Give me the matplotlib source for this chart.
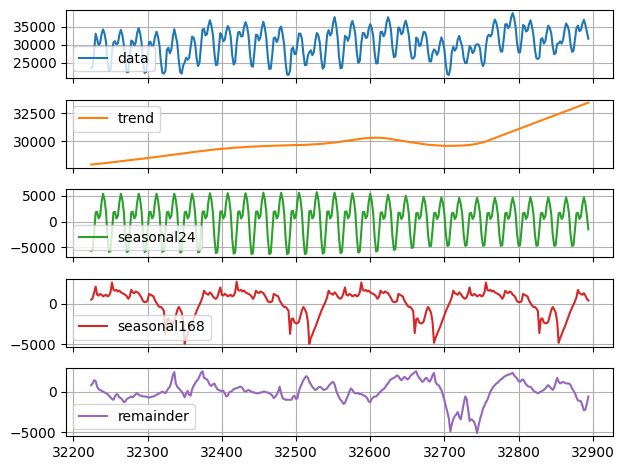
import numpy as np
import matplotlib.pyplot as plt

# hourly index, one sample every 2 hours, 4 weeks
start = 32224
step = 2

# trend, in units of 10, one row per day (12 samples)
trend_rows = [
    [2790, 2791, 2793, 2794, 2796, 2797, 2799, 2800, 2801, 2803, 2804, 2806],
    [2807, 2809, 2810, 2812, 2813, 2815, 2817, 2818, 2820, 2821, 2823, 2824],
    [2826, 2828, 2829, 2831, 2832, 2834, 2836, 2837, 2839, 2840, 2842, 2843],
    [2845, 2847, 2848, 2850, 2852, 2853, 2855, 2857, 2858, 2860, 2862, 2863],
    [2865, 2867, 2869, 2870, 2872, 2874, 2876, 2877, 2879, 2881, 2883, 2884],
    [2886, 2888, 2890, 2891, 2893, 2895, 2897, 2898, 2900, 2902, 2904, 2905],
    [2907, 2909, 2910, 2912, 2913, 2915, 2917, 2918, 2920, 2921, 2923, 2924],
    [2926, 2927, 2928, 2929, 2931, 2932, 2933, 2934, 2935, 2936, 2938, 2939],
    [2940, 2941, 2942, 2942, 2943, 2944, 2945, 2946, 2947, 2947, 2948, 2949],
    [2950, 2951, 2951, 2952, 2952, 2953, 2953, 2954, 2955, 2955, 2956, 2956],
    [2957, 2957, 2958, 2958, 2959, 2959, 2959, 2960, 2960, 2961, 2961, 2962],
    [2962, 2962, 2963, 2963, 2963, 2964, 2964, 2964, 2965, 2965, 2965, 2966],
    [2966, 2967, 2967, 2968, 2969, 2970, 2971, 2971, 2972, 2973, 2974, 2975],
    [2976, 2977, 2979, 2980, 2982, 2983, 2984, 2986, 2987, 2989, 2990, 2992],
    [2993, 2995, 2997, 2999, 3001, 3003, 3005, 3007, 3009, 3011, 3014, 3016],
    [3018, 3020, 3021, 3023, 3024, 3025, 3026, 3027, 3028, 3029, 3029, 3030],
    [3030, 3030, 3029, 3029, 3028, 3027, 3026, 3024, 3022, 3020, 3018, 3016],
    [3015, 3013, 3010, 3008, 3006, 3003, 3001, 2999, 2996, 2994, 2992, 2990],
    [2988, 2986, 2984, 2982, 2980, 2978, 2976, 2974, 2972, 2970, 2968, 2967],
    [2966, 2965, 2964, 2963, 2962, 2961, 2960, 2960, 2959, 2958, 2958, 2957],
    [2957, 2957, 2957, 2957, 2958, 2958, 2958, 2959, 2959, 2960, 2960, 2961],
    [2962, 2963, 2964, 2965, 2967, 2969, 2971, 2973, 2976, 2979, 2982, 2985],
    [2988, 2992, 2997, 3002, 3007, 3012, 3018, 3023, 3028, 3033, 3038, 3043],
    [3048, 3053, 3058, 3063, 3068, 3073, 3078, 3083, 3088, 3093, 3098, 3103],
    [3108, 3113, 3118, 3123, 3128, 3133, 3138, 3143, 3148, 3153, 3158, 3163],
    [3168, 3173, 3178, 3183, 3188, 3193, 3198, 3203, 3208, 3213, 3218, 3223],
    [3228, 3233, 3238, 3243, 3248, 3253, 3258, 3263, 3268, 3273, 3278, 3283],
    [3288, 3293, 3298, 3303, 3308, 3313, 3318, 3323, 3328, 3333, 3338, 3343],
]

# daily seasonal, in hundreds, one row per day
seasonal24_rows = [
    [-57, -55, -20, 18, 19, 6, 11, 38, 54, 42, 18, -30],
    [-59, -57, -20, 18, 19, 6, 11, 38, 54, 42, 18, -30],
    [-59, -57, -20, 18, 19, 6, 11, 38, 54, 42, 18, -30],
    [-59, -57, -20, 18, 19, 6, 11, 38, 54, 42, 18, -30],
    [-59, -57, -20, 18, 19, 6, 11, 38, 54, 42, 18, -31],
    [-60, -58, -21, 18, 19, 6, 11, 38, 54, 42, 18, -31],
    [-60, -58, -21, 19, 20, 6, 11, 39, 55, 43, 18, -31],
    [-61, -59, -21, 19, 20, 6, 11, 39, 55, 43, 18, -32],
    [-62, -60, -22, 19, 20, 6, 11, 39, 55, 43, 18, -32],
    [-63, -61, -22, 19, 20, 6, 11, 39, 56, 43, 18, -32],
    [-63, -61, -22, 19, 20, 6, 11, 40, 56, 43, 18, -32],
    [-63, -61, -22, 20, 21, 6, 11, 40, 56, 44, 18, -32],
    [-63, -61, -22, 20, 21, 6, 11, 40, 57, 44, 18, -32],
    [-62, -60, -22, 19, 20, 6, 11, 40, 56, 43, 18, -32],
    [-61, -59, -21, 19, 20, 6, 11, 39, 55, 42, 18, -31],
    [-60, -58, -21, 18, 19, 6, 11, 38, 54, 41, 17, -30],
    [-58, -56, -20, 17, 18, 5, 10, 37, 52, 40, 17, -29],
    [-55, -53, -19, 17, 17, 5, 10, 35, 50, 38, 16, -27],
    [-51, -50, -18, 16, 17, 5, 10, 34, 48, 37, 15, -26],
    [-48, -47, -17, 16, 17, 5, 10, 33, 47, 36, 15, -25],
    [-47, -46, -16, 16, 17, 5, 10, 33, 46, 35, 15, -25],
    [-47, -46, -16, 16, 17, 5, 10, 33, 46, 35, 15, -25],
    [-47, -46, -16, 16, 17, 5, 10, 33, 46, 35, 15, -25],
    [-47, -46, -16, 16, 17, 5, 10, 33, 46, 35, 15, -25],
    [-47, -46, -16, 16, 17, 5, 10, 33, 47, 35, 15, -25],
    [-47, -46, -16, 16, 17, 5, 10, 33, 47, 35, 15, -25],
    [-47, -46, -16, 16, 17, 5, 10, 33, 47, 35, 15, -25],
    [-47, -46, -16, 16, 17, 5, 10, 33, 47, 35, 12, -15],
]

# weekly seasonal, in hundreds, one row per week (84 samples)
seasonal168_rows = [
    [5, 7, 14, 21, 11, 10, 12, 11, 9, 10, 11, 9,
     10, 14, 26, 17, 16, 17, 15, 16, 14, 13, 12, 11,
     9, 6, 9, 17, 14, 13, 15, 14, 13, 10, 7, 3,
     2, 2, 4, 12, 11, 10, 9, 4, 1, -2, -4, -4,
     -6, -9, -38, -20, -18, -23, -24, -24, -22, -15, -8, -4,
     -7, -11, -22, -49, -42, -38, -33, -29, -24, -19, -14, -9,
     -5, -1, 3, 8, 16, 13, 12, 11, 14, 12, 9, 7],
    [6, 8, 14, 20, 11, 10, 12, 11, 9, 10, 11, 9,
     10, 14, 27, 17, 16, 17, 15, 16, 14, 13, 12, 11,
     9, 6, 9, 16, 14, 13, 15, 14, 13, 10, 7, 3,
     2, 2, 3, 12, 11, 10, 9, 4, 1, -2, -4, -4,
     -6, -9, -37, -19, -18, -23, -24, -24, -22, -15, -8, -4,
     -7, -11, -22, -49, -42, -38, -33, -29, -24, -19, -14, -9,
     -5, -1, 3, 8, 16, 13, 12, 11, 14, 12, 9, 7],
    [6, 8, 13, 20, 11, 10, 12, 11, 9, 10, 11, 9,
     10, 14, 26, 17, 16, 17, 15, 16, 14, 13, 12, 11,
     9, 6, 9, 16, 14, 13, 15, 14, 13, 10, 7, 3,
     2, 2, 3, 12, 11, 10, 9, 4, 1, -2, -4, -4,
     -6, -9, -36, -19, -18, -23, -24, -24, -22, -15, -8, -4,
     -7, -11, -22, -48, -42, -38, -33, -29, -24, -19, -14, -9,
     -5, -1, 3, 8, 16, 13, 12, 11, 14, 12, 9, 7],
    [6, 8, 13, 20, 11, 10, 12, 11, 9, 10, 11, 9,
     10, 14, 26, 17, 16, 17, 15, 16, 14, 13, 12, 11,
     9, 6, 9, 16, 14, 13, 15, 14, 11, 10, 7, 3,
     2, 2, 3, 12, 11, 10, 9, 4, 1, -2, -4, -4,
     -6, -9, -36, -19, -18, -23, -24, -24, -22, -15, -8, -4,
     -7, -11, -22, -48, -42, -38, -33, -29, -24, -19, -14, -9,
     -5, -1, 3, 8, 17, 13, 12, 11, 13, 10, 6, 4],
]

# remainder, in hundreds, one row per day
remainder_rows = [
    [8, 10, 14, 13, 6, 3, 2, 1, 0, -1, -2, -3],
    [-5, -7, -9, -10, -6, -3, -4, -7, -8, -10, -13, -12],
    [-9, -8, -7, -6, -7, -5, -3, -2, -4, -5, -5, -6],
    [-6, -6, -7, -7, -7, -6, -6, -5, -4, -3, -2, -1],
    [0, -1, -2, 1, 4, 6, 12, 20, 24, 10, 6, 4],
    [2, 0, -3, -7, -2, 1, -4, -5, 3, 7, 10, 13],
    [15, 19, 23, 25, 17, 16, 15, 12, 8, 7, 9, 10],
    [6, 3, 2, 1, 1, 1, -2, -6, -5, -1, 0, 1],
    [3, 4, 4, 5, 6, 6, 4, 1, 0, 1, 2, 1],
    [0, -1, -1, -2, -2, -2, -1, -1, 0, 0, -1, -1],
    [-2, -3, -5, -8, -6, -4, 0, 6, -2, -8, -9, -10],
    [-10, -10, -10, -10, -6, -5, -9, -8, 1, 6, 10, 14],
    [17, 19, 17, 12, 9, 6, 4, 2, 3, 5, 6, 5],
    [3, 2, 3, 4, 7, 9, 11, 12, 9, 2, -3, -7],
    [-10, -12, -15, -14, -9, -5, 0, 4, 2, -1, -2, -2],
    [-2, -3, -3, -4, -5, -6, -8, -12, -13, -9, -7, -6],
    [-6, -4, -2, 0, 2, 3, 5, 8, 10, 13, 15, 16],
    [17, 18, 20, 19, 16, 14, 16, 18, 17, 15, 16, 19],
    [21, 22, 24, 25, 20, 17, 15, 12, 13, 16, 17, 14],
    [12, 15, 20, 23, 12, 9, 8, 5, 2, -4, -10, -18],
    [-25, -33, -49, -40, -34, -30, -28, -25, -31, -34, -25, -15],
    [-6, -9, -22, -36, -34, -35, -37, -42, -51, -42, -34, -28],
    [-21, -17, -13, -10, -5, 0, 3, 6, 8, 10, 11, 13],
    [15, 16, 18, 19, 20, 21, 21, 22, 23, 20, 18, 16],
    [13, 12, 14, 15, 12, 9, 7, 6, 6, 4, 1, 0],
    [-1, -2, -1, 0, 1, 2, 4, 6, 8, 6, 4, 2],
    [5, 11, 17, 12, 10, 11, 12, 11, 10, 10, 10, 8],
    [4, 1, -2, -7, -11, -11, -12, -17, -23, -22, -15, -6],
]

trend = np.array(trend_rows).ravel() * 10
seasonal24 = np.array(seasonal24_rows).ravel() * 100
seasonal168 = np.array(seasonal168_rows).ravel() * 100
remainder = np.array(remainder_rows).ravel() * 100
data = trend + seasonal24 + seasonal168 + remainder
x = start + step * np.arange(len(trend))

series = [
    ("data", data, "C0", "lower left"),
    ("trend", trend, "C1", "upper left"),
    ("seasonal24", seasonal24, "C2", "lower left"),
    ("seasonal168", seasonal168, "C3", "lower left"),
    ("remainder", remainder, "C4", "lower left"),
]

fig, axes = plt.subplots(5, 1, sharex=True, figsize=(6.27, 4.7), dpi=100)
for ax, (name, y, color, loc) in zip(axes, series):
    ax.plot(x, y, color=color, label=name)
    ax.legend(loc=loc)
    ax.grid(True)

# tight margins like a cropped save, normal gaps between panels
fig.tight_layout(pad=0.72, h_pad=1.08, w_pad=1.08)
fig.savefig("out.png")
